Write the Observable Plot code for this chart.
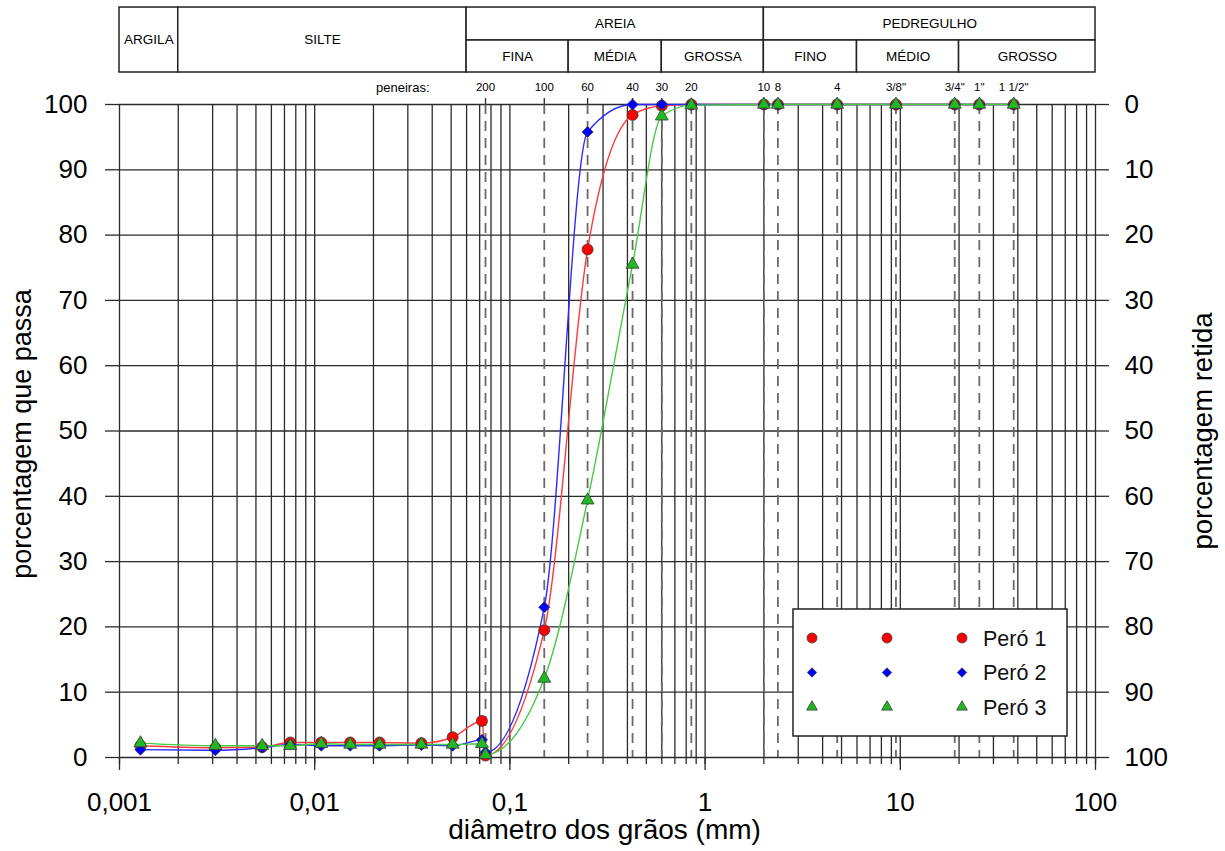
<!DOCTYPE html>
<html>
<head>
<meta charset="utf-8">
<script src="https://cdn.jsdelivr.net/npm/d3@7"></script>
<script src="https://cdn.jsdelivr.net/npm/@observablehq/plot@0.6"></script>
<style>
  html, body { margin: 0; padding: 0; background: #fff; }
  #chart { width: 1225px; height: 851px; }
</style>
</head>
<body>
<div id="chart"></div>
<script>
// ---------------- DATA ----------------
// Sedimentation (hydrometer) diameters, mm
const sedDiam = [0.00128, 0.0031, 0.00538, 0.0075, 0.0108, 0.0152, 0.0215, 0.0352, 0.0509, 0.0719];
// Sieve openings, mm, and their labels
const sieveDiam = [0.075, 0.15, 0.25, 0.425, 0.6, 0.85, 2.0, 2.36, 4.75, 9.5, 19.0, 25.4, 38.1];
const sieveLabels = ["200", "100", "60", "40", "30", "20", "10", "8", "4", "3/8\"", "3/4\"", "1\"", "1 1/2\""];

const sampleNames = ["Peró 1", "Peró 2", "Peró 3"];
// percent passing – sedimentation part
const pero1Sed = [1.8, 1.5, 1.6, 2.3, 2.3, 2.3, 2.3, 2.2, 3.1, 5.6];
const pero2Sed = [1.2, 1.1, 1.5, 2.0, 1.8, 1.8, 1.8, 1.9, 1.8, 2.7];
const pero3Sed = [2.2, 1.8, 1.8, 1.8, 2.1, 2.0, 2.0, 2.0, 2.0, 2.1];
// percent passing – sieve part
const pero1Sieve = [0.3, 19.5, 77.8, 98.4, 99.8, 100, 100, 100, 100, 100, 100, 100, 100];
const pero2Sieve = [0.8, 23.0, 95.8, 100, 100, 100, 100, 100, 100, 100, 100, 100, 100];
const pero3Sieve = [0.4, 12.1, 39.4, 75.5, 98.2, 99.9, 100, 100, 100, 100, 100, 100, 100];

// axis ticks
const yTicks = [0, 10, 20, 30, 40, 50, 60, 70, 80, 90, 100];
const xMajorTicks = [0.001, 0.01, 0.1, 1, 10, 100];
const xMajorLabels = ["0,001", "0,01", "0,1", "1", "10", "100"];

// soil classification header (ABNT)
const classNames = ["ARGILA", "SILTE", "AREIA", "PEDREGULHO"];
const classFrom = [0.001, 0.002, 0.06, 2];
const classTo = [0.002, 0.06, 2, 100];
const classSplit = [false, false, true, true];
const subNames = ["FINA", "MÉDIA", "GROSSA", "FINO", "MÉDIO", "GROSSO"];
const subFrom = [0.06, 0.2, 0.6, 2, 6, 20];
const subTo = [0.2, 0.6, 2, 6, 20, 100];

// ---------------- STYLE / LAYOUT ----------------
const FONT = "'Liberation Sans', Arial, Helvetica, sans-serif";
const lineColors = ["#ff3a3a", "#2a2aff", "#45cc45"];
const dotColors = ["#ff0000", "#0000ff", "#22b822"];
const symbols = ["circle", "diamond2", "triangle"];
const radii = [5.5, 5, 4.8];
// header rows expressed on the (extrapolated) y scale above 100 %
const HDR_TOP = 114.85, HDR_MID = 109.8, HDR_BOT = 104.9;

// ---------------- BUILD ----------------
const xGridTicks = d3.scaleLog().domain([0.001, 100]).ticks();
const sedSets = [pero1Sed, pero2Sed, pero3Sed];
const sieveSets = [pero1Sieve, pero2Sieve, pero3Sieve];
const series = sampleNames.map((name, k) => {
  const pts = sedDiam.map((d, i) => ({sample: name, d, p: sedSets[k][i]}))
    .concat(sieveDiam.map((d, i) => ({sample: name, d, p: sieveSets[k][i]})));
  pts.sort((a, b) => a.d - b.d);
  return pts;
});

const classCells = classNames.map((n, i) => ({
  name: n, x1: classFrom[i], x2: classTo[i],
  y1: classSplit[i] ? HDR_MID : HDR_BOT, y2: HDR_TOP,
  ty: classSplit[i] ? (HDR_TOP + HDR_MID) / 2 : (HDR_TOP + HDR_BOT) / 2
}));
const subCells = subNames.map((n, i) => ({
  name: n, x1: subFrom[i], x2: subTo[i], y1: HDR_BOT, y2: HDR_MID, ty: (HDR_MID + HDR_BOT) / 2
}));
const sieveRows = sieveDiam.map((d, i) => ({d, label: sieveLabels[i]}));
const majorRows = xMajorTicks.map((d, i) => ({d, label: xMajorLabels[i]}));

const gridStyle = {stroke: "#2b2b2b", strokeOpacity: 1, strokeWidth: 1.3};

const marks = [
  Plot.gridY({ticks: yTicks, ...gridStyle}),
  Plot.gridX({ticks: xGridTicks, ...gridStyle}),
  Plot.ruleX(sieveDiam, {x: d => d, stroke: "#6a6a6a", strokeWidth: 1.8, strokeDasharray: "10,7"}),
  // axes
  Plot.axisY({anchor: "left", ticks: yTicks, tickSize: 14, tickPadding: 18, fontSize: 26, label: null, stroke: "#2b2b2b", strokeWidth: 1.3}),
  Plot.axisY({anchor: "right", ticks: yTicks, tickSize: 13, tickPadding: 16, fontSize: 26, label: null,
    tickFormat: d => String(100 - d), stroke: "#2b2b2b", strokeWidth: 1.3}),
  Plot.axisX({anchor: "bottom", ticks: xGridTicks, tickSize: 7, tickFormat: () => "", label: null, stroke: "#2b2b2b", strokeWidth: 1.3}),
  Plot.axisX({anchor: "bottom", ticks: xMajorTicks, tickSize: 13, tickFormat: () => "", label: null, stroke: "#2b2b2b", strokeWidth: 1.3}),
  Plot.text(majorRows, {x: "d", text: "label", frameAnchor: "bottom", dy: 45, fontSize: 26, lineAnchor: "middle"}),
  Plot.axisX({anchor: "top", ticks: sieveDiam, tickSize: 7, tickFormat: () => "", label: null, stroke: "#2b2b2b", strokeWidth: 1.3}),
  Plot.text(sieveRows, {x: "d", text: "label", frameAnchor: "top", dy: -17, fontSize: 11.5, lineAnchor: "middle"}),
  Plot.text(["peneiras:"], {text: d => d, frameAnchor: "top", x: () => sieveDiam[0], dx: -56, dy: -17,
    textAnchor: "end", fontSize: 13, lineAnchor: "middle"}),
  // classification header
  Plot.rect(classCells, {x1: "x1", x2: "x2", y1: "y1", y2: "y2", fill: "white", stroke: "#222", strokeWidth: 1.5}),
  Plot.rect(subCells, {x1: "x1", x2: "x2", y1: "y1", y2: "y2", fill: "white", stroke: "#222", strokeWidth: 1.5}),
  Plot.text(classCells, {x: d => Math.sqrt(d.x1 * d.x2), y: "ty", text: "name", fontSize: 13.5, lineAnchor: "middle"}),
  Plot.text(subCells, {x: d => Math.sqrt(d.x1 * d.x2), y: "ty", text: "name", fontSize: 13.5, lineAnchor: "middle"}),
];

// curves
series.forEach((pts, k) => {
  marks.push(Plot.line(pts, {x: "d", y: "p", stroke: lineColors[k], strokeWidth: 1.4, curve: "monotone-x"}));
});
series.forEach((pts, k) => {
  marks.push(Plot.dot(pts, {x: "d", y: "p", symbol: () => symbols[k], r: radii[k], fill: dotColors[k],
    stroke: "#3a3a3a", strokeWidth: 0.8}));
});

// axis titles
marks.push(
  Plot.text(["diâmetro dos grãos (mm)"], {text: d => d, frameAnchor: "bottom", dy: 73, dx: -3, fontSize: 28, lineAnchor: "middle"}),
  Plot.text(["porcentagem que passa"], {text: d => d, frameAnchor: "left", dx: -97, dy: 3, rotate: -90,
    textAnchor: "middle", fontSize: 27, lineAnchor: "middle"}),
  Plot.text(["porcentagem retida"], {text: d => d, frameAnchor: "right", dx: 108, dy: 0, rotate: -90,
    textAnchor: "middle", fontSize: 27.5, lineAnchor: "middle"})
);

const chart = Plot.plot({
  width: 1225,
  height: 851,
  marginLeft: 119,
  marginRight: 130,
  marginTop: 104,
  marginBottom: 94,
  style: {fontFamily: FONT, fontSize: "13px", background: "white", color: "#000", overflow: "visible"},
  x: {type: "log", domain: [0.001, 100]},
  y: {domain: [0, 100]},
  symbol: {type: "identity"},
  marks
});

// legend (boxed, three marker columns + label, as in the original)
const svg = d3.select(chart);
const lg = svg.append("g").attr("font-family", FONT).attr("text-anchor", "start");
lg.append("rect").attr("x", 793).attr("y", 609).attr("width", 274).attr("height", 127)
  .attr("fill", "white").attr("stroke", "#222").attr("stroke-width", 1.5);
const d3sym = [d3.symbolCircle, d3.symbolDiamond2, d3.symbolTriangle];
const legendSizes = [Math.PI * 25, Math.PI * 18, Math.PI * 16];
sampleNames.forEach((name, k) => {
  const y = 638 + k * 34.5;
  [812, 887, 962].forEach(x => {
    lg.append("path").attr("d", d3.symbol(d3sym[k], legendSizes[k])())
      .attr("transform", `translate(${x},${y})`)
      .attr("fill", dotColors[k]).attr("stroke", "#3a3a3a").attr("stroke-width", 0.8);
  });
  lg.append("text").attr("x", 983).attr("y", y).attr("dy", "0.35em").attr("text-anchor", "start")
    .attr("font-size", 21.5).attr("fill", "#111").text(name);
});

document.getElementById("chart").appendChild(chart);
</script>
</body>
</html>
